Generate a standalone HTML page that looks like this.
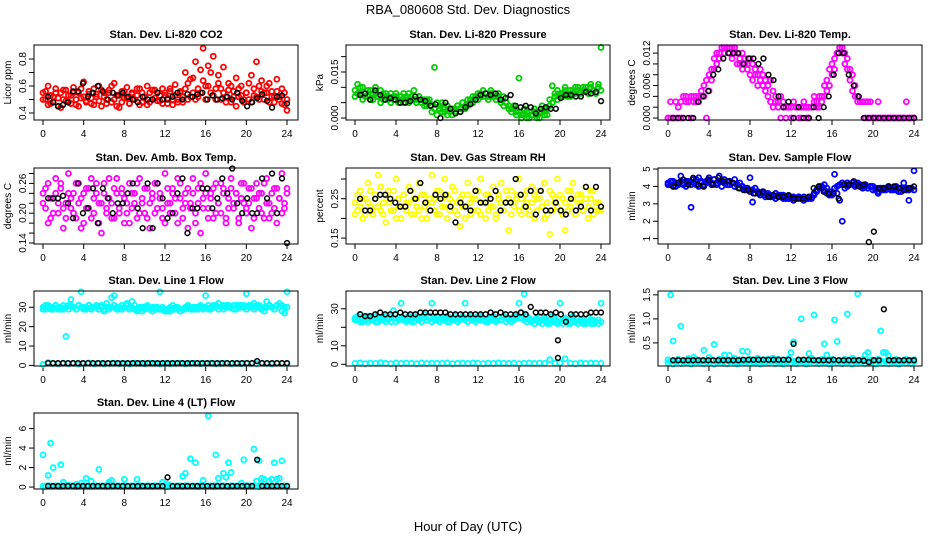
<!DOCTYPE html>
<html>
<head>
<meta charset="utf-8">
<style>
html,body{margin:0;padding:0;background:#fff;}
svg{display:block;font-family:"Liberation Sans",Arial,sans-serif;}
</style>
</head>
<body>
<svg id="chart" width="936" height="540" viewBox="0 0 936 540" xmlns="http://www.w3.org/2000/svg">
<text x="468" y="14" text-anchor="middle" font-size="13">RBA_080608  Std. Dev. Diagnostics</text>
<text x="468" y="531" text-anchor="middle" font-size="13">Hour of Day (UTC)</text>
</svg>
<script>
// ---- data (x positions derived from index over 0..24 h) ----
const xTicks = [0,4,8,12,16,20,24];
const co2A = [0.55,0.50,0.60,0.47,0.52,0.58,0.45,0.55,0.50,0.57,0.48,0.53,0.59,0.46,0.55,0.51,0.63,0.49,0.54,0.47,0.58,0.52,0.60,0.45,0.55,0.50,0.57,0.48,0.62,0.53,0.44,0.56,0.51,0.59,0.47,0.54,0.50,0.58,0.46,0.55,0.52,0.60,0.48,0.57,0.51,0.55,0.49,0.58,0.53,0.47,0.56,0.50,0.61,0.48,0.55,0.52,0.70,0.50,0.65,0.55,0.78,0.52,0.72,0.88,0.60,0.75,0.55,0.82,0.50,0.68,0.58,0.74,0.52,0.62,0.48,0.56,0.66,0.52,0.60,0.48,0.55,0.50,0.68,0.53,0.78,0.50,0.64,0.55,0.60,0.48,0.56,0.52,0.65,0.50,0.58,0.46,0.42];
const co2B = [0.50,0.56,0.46,0.53,0.48,0.55,0.51,0.44,0.57,0.49,0.53,0.47,0.55,0.50,0.45,0.58,0.52,0.48,0.56,0.51,0.46,0.54,0.49,0.57,0.52,0.47,0.55,0.60,0.50,0.45,0.53,0.48,0.56,0.51,0.47,0.55,0.50,0.53,0.58,0.48,0.52,0.46,0.55,0.50,0.57,0.49,0.53,0.47,0.55,0.51,0.58,0.46,0.53,0.50,0.56,0.48,0.58,0.62,0.52,0.66,0.50,0.58,0.55,0.64,0.50,0.60,0.70,0.53,0.58,0.62,0.50,0.55,0.48,0.57,0.60,0.52,0.45,0.58,0.53,0.50,0.55,0.62,0.48,0.58,0.52,0.60,0.56,0.50,0.55,0.62,0.52,0.48,0.56,0.52,0.47,0.55,0.50];
const co2K = [0.52,0.48,0.45,0.46,0.48,0.56,0.56,0.62,0.52,0.55,0.60,0.56,0.50,0.55,0.53,0.55,0.52,0.50,0.48,0.52,0.50,0.50,0.55,0.50,0.50,0.52,0.55,0.50,0.54,0.52,0.54,0.55,0.50,0.53,0.50,0.51,0.52,0.50,0.55,0.49,0.45,0.48,0.51,0.54,0.49,0.44,0.52,0.53,0.47];

const presA = [0.009,0.011,0.008,0.010,0.007,0.009,0.006,0.008,0.010,0.007,0.009,0.006,0.008,0.007,0.005,0.007,0.008,0.006,0.007,0.005,0.007,0.008,0.006,0.009,0.006,0.007,0.005,0.006,0.004,0.006,0.002,0.0165,0.005,0.003,0.005,0.002,0.004,0.003,0.001,0.003,0.004,0.002,0.005,0.004,0.006,0.005,0.007,0.006,0.008,0.007,0.009,0.008,0.007,0.009,0.008,0.007,0.008,0.006,0.007,0.005,0.004,0.003,0.004,0.002,0.013,0.001,0.003,0.000,0.002,0.001,0.003,0.000,0.002,0.004,0.001,0.003,0.006,0.0105,0.007,0.006,0.008,0.007,0.009,0.008,0.007,0.009,0.008,0.010,0.008,0.009,0.010,0.008,0.010,0.009,0.008,0.011,0.023];
const presB = [0.007,0.008,0.010,0.006,0.008,0.007,0.009,0.006,0.008,0.007,0.005,0.008,0.007,0.006,0.008,0.006,0.007,0.005,0.006,0.008,0.006,0.005,0.007,0.006,0.005,0.007,0.006,0.004,0.006,0.005,0.004,0.003,0.001,0.004,0.002,0.003,0.001,0.002,0.003,0.002,0.004,0.003,0.005,0.003,0.004,0.006,0.005,0.007,0.006,0.008,0.007,0.008,0.006,0.008,0.007,0.006,0.007,0.005,0.004,0.005,0.003,0.002,0.003,0.001,0.002,0.000,0.001,0.002,0.000,0.001,0.002,0.001,0.000,0.002,0.003,0.001,0.004,0.005,0.008,0.009,0.007,0.008,0.010,0.007,0.009,0.008,0.010,0.009,0.008,0.010,0.009,0.008,0.011,0.009,0.008,0.010,0.009];
const presK = [0.0075,0.008,0.006,0.009,0.0075,0.006,0.0065,0.006,0.005,0.005,0.0055,0.007,0.006,0.0055,0.004,0.0045,0.000,0.005,0.003,0.0015,0.002,0.0035,0.0045,0.006,0.0075,0.008,0.0075,0.008,0.006,0.0065,0.0075,0.004,0.0035,0.004,0.0035,0.0015,0.003,0.0035,0.003,0.003,0.0065,0.0075,0.0075,0.007,0.007,0.0085,0.008,0.0085,0.0055];

const tempA = [0,0.003,0,0,0.002,0,0,0.004,0.003,0,0.004,0.003,0.003,0.004,0.004,0,0.005,0.007,0.009,0.010,0.011,0.013,0.013,0.013,0.013,0.013,0.013,0.012,0.011,0.012,0.011,0.010,0.011,0.010,0.009,0.008,0.009,0.008,0.007,0.006,0.007,0.005,0.004,0.003,0.004,0.003,0.002,0.002,0.002,0.003,0.002,0.002,0.002,0.003,0.002,0.002,0.002,0.003,0.002,0.002,0.003,0.004,0.005,0.006,0.008,0.009,0.012,0.013,0.013,0.012,0.011,0.009,0.008,0.006,0.004,0.003,0.003,0.003,0.003,0.003,0,0,0.003,0,0,0,0,0,0,0,0,0,0,0.003,0,0,0];
const tempB = [0,0,0,0.003,0,0.003,0.004,0.003,0.003,0.004,0.003,0.004,0.004,0.005,0.006,0.007,0.008,0.009,0.011,0.012,0.012,0.013,0.012,0.013,0.012,0.011,0.012,0.010,0.010,0.009,0.010,0.009,0.008,0.007,0.008,0.006,0.007,0.006,0.005,0.004,0.003,0.002,0.003,0.002,0,0.002,0,0.002,0,0,0.002,0,0,0.002,0,0,0.002,0.004,0.003,0.004,0.004,0.006,0.007,0.009,0.010,0.011,0.012,0.013,0.012,0.010,0.009,0.007,0.005,0.004,0.003,0.003,0.003,0,0,0,0,0,0,0,0,0,0,0,0,0,0,0,0,0,0,0,0];
const tempK = [0,0,0,0,0,0.003,0.004,0.005,0.008,0.009,0.011,0.012,0.012,0.012,0.010,0.011,0.011,0.010,0.011,0.008,0.007,0.004,0.002,0.003,0,0.002,0,0,0.002,0,0.002,0.004,0.008,0.012,0.012,0.008,0.006,0.004,0,0,0,0,0,0,0,0,0,0,0];

const ambA = [0.24,0.21,0.26,0.19,0.23,0.27,0.20,0.25,0.17,0.22,0.28,0.21,0.24,0.19,0.26,0.23,0.18,0.25,0.21,0.27,0.20,0.24,0.22,0.16,0.26,0.21,0.23,0.19,0.25,0.27,0.20,0.24,0.18,0.22,0.26,0.21,0.24,0.19,0.27,0.22,0.20,0.25,0.17,0.23,0.26,0.21,0.24,0.19,0.28,0.22,0.20,0.25,0.23,0.18,0.26,0.21,0.24,0.17,0.22,0.27,0.20,0.25,0.16,0.23,0.28,0.21,0.24,0.19,0.26,0.22,0.20,0.25,0.18,0.23,0.27,0.21,0.24,0.19,0.26,0.22,0.20,0.25,0.17,0.23,0.26,0.21,0.24,0.19,0.27,0.22,0.20,0.25,0.18,0.23,0.28,0.21,0.24];
const ambB = [0.22,0.25,0.18,0.23,0.20,0.24,0.22,0.26,0.21,0.19,0.24,0.23,0.20,0.26,0.22,0.17,0.24,0.21,0.25,0.19,0.23,0.26,0.18,0.22,0.24,0.20,0.27,0.22,0.19,0.24,0.21,0.25,0.23,0.20,0.18,0.24,0.22,0.26,0.20,0.23,0.25,0.19,0.22,0.24,0.20,0.26,0.23,0.21,0.18,0.25,0.22,0.24,0.20,0.27,0.23,0.19,0.22,0.25,0.21,0.24,0.18,0.22,0.26,0.21,0.24,0.19,0.23,0.25,0.20,0.22,0.26,0.24,0.19,0.21,0.25,0.22,0.24,0.18,0.23,0.26,0.21,0.22,0.25,0.19,0.23,0.24,0.20,0.26,0.22,0.19,0.24,0.21,0.25,0.23,0.20,0.22,0.25];
const ambK = [0.23,0.23,0.23,0.235,0.22,0.19,0.26,0.20,0.21,0.25,0.18,0.25,0.23,0.20,0.22,0.22,0.24,0.26,0.21,0.17,0.26,0.17,0.26,0.23,0.19,0.20,0.24,0.27,0.16,0.21,0.21,0.25,0.25,0.21,0.23,0.27,0.24,0.29,0.22,0.20,0.23,0.20,0.20,0.27,0.23,0.28,0.20,0.27,0.14];

const rhA = [0.24,0.22,0.27,0.20,0.25,0.29,0.23,0.21,0.26,0.31,0.22,0.24,0.19,0.27,0.25,0.22,0.30,0.23,0.20,0.26,0.24,0.28,0.21,0.25,0.23,0.29,0.20,0.26,0.24,0.22,0.31,0.25,0.21,0.27,0.23,0.30,0.20,0.25,0.28,0.22,0.24,0.18,0.26,0.23,0.29,0.21,0.25,0.27,0.22,0.30,0.24,0.20,0.26,0.23,0.28,0.21,0.25,0.29,0.22,0.24,0.17,0.27,0.23,0.25,0.30,0.21,0.26,0.24,0.22,0.28,0.20,0.25,0.27,0.23,0.29,0.21,0.16,0.26,0.24,0.30,0.22,0.25,0.17,0.27,0.23,0.29,0.21,0.26,0.24,0.22,0.28,0.20,0.25,0.27,0.23,0.24,0.22];
const rhB = [0.21,0.26,0.23,0.25,0.21,0.24,0.27,0.22,0.25,0.23,0.28,0.21,0.26,0.24,0.22,0.27,0.20,0.25,0.23,0.26,0.22,0.24,0.27,0.21,0.25,0.22,0.26,0.23,0.20,0.25,0.24,0.22,0.27,0.21,0.25,0.23,0.26,0.22,0.24,0.27,0.21,0.25,0.23,0.20,0.26,0.24,0.22,0.25,0.27,0.21,0.24,0.26,0.22,0.25,0.23,0.20,0.26,0.24,0.22,0.27,0.25,0.21,0.24,0.26,0.22,0.25,0.23,0.27,0.21,0.24,0.26,0.22,0.25,0.23,0.20,0.24,0.27,0.22,0.25,0.23,0.26,0.21,0.24,0.22,0.27,0.25,0.21,0.24,0.26,0.22,0.25,0.23,0.27,0.21,0.24,0.22,0.23];
const rhK = [0.25,0.22,0.22,0.25,0.26,0.26,0.25,0.24,0.23,0.23,0.27,0.25,0.29,0.24,0.22,0.26,0.25,0.26,0.23,0.19,0.24,0.23,0.22,0.27,0.24,0.24,0.25,0.27,0.22,0.24,0.24,0.30,0.26,0.23,0.27,0.21,0.27,0.22,0.22,0.24,0.22,0.21,0.25,0.22,0.23,0.28,0.22,0.28,0.23];

const sfA = [4.2,4.1,4.3,4.0,4.2,4.6,4.1,4.3,4.2,2.8,4.4,4.1,4.5,4.2,4.0,4.3,4.5,4.2,4.4,4.1,4.6,4.3,4.4,4.1,4.3,4.2,4.4,4.1,4.2,4.0,3.9,3.8,4.5,3.1,3.9,3.7,3.6,3.7,3.5,3.6,3.5,3.4,3.6,3.5,3.4,3.5,3.3,3.4,3.3,3.4,3.3,3.4,3.3,3.2,3.3,3.4,3.3,3.5,3.7,3.9,4.0,4.1,3.9,3.7,3.5,4.7,3.6,3.2,2.0,3.9,4.0,4.1,4.2,4.1,4.2,4.1,4.0,4.1,3.9,4.0,4.0,3.8,3.6,3.9,3.8,3.9,4.0,3.9,3.8,4.0,3.7,3.9,4.2,3.8,3.2,3.9,4.9];
const sfB = [4.1,4.3,4.0,4.2,4.1,4.3,4.2,4.0,4.3,4.1,4.2,4.4,4.0,4.3,4.1,4.2,4.3,4.1,4.4,4.2,4.3,4.0,4.2,4.3,4.1,4.2,4.0,4.1,3.9,4.0,3.8,3.9,3.7,3.8,3.6,3.7,3.5,3.6,3.4,3.5,3.4,3.5,3.3,3.4,3.5,3.3,3.4,3.3,3.4,3.2,3.3,3.4,3.3,3.4,3.3,3.3,3.4,3.6,3.8,4.0,3.9,3.8,3.6,3.5,3.7,3.9,4.0,4.1,4.2,4.1,4.2,4.1,4.2,4.0,4.1,4.0,3.9,4.0,3.9,4.0,3.8,3.9,3.7,3.8,3.9,3.8,3.9,3.8,3.9,3.8,3.9,3.7,3.8,3.9,3.8,3.9,3.8];
const sfK = [4.0,4.2,4.4,4.1,4.5,4.1,4.0,4.4,4.1,4.5,4.3,4.3,4.2,3.9,3.8,3.8,3.6,3.6,3.7,3.4,3.5,3.4,3.4,3.5,3.3,3.3,3.3,3.4,3.9,4.0,3.7,3.6,3.6,3.3,4.1,4.1,4.3,4.0,4.1,0.8,1.4,3.9,3.9,4.0,4.0,3.9,3.8,3.9,4.0];

const l1A = [30,29,31,30,29,31,30,29,29,15,31,34,30,29,31,38,30,29,31,30,30,31,29,30,28,32,30,35,36,30,29,31,30,32,30,33,31,29,30,28,30,31,29,30,30,29,38,30,29,28,30,31,29,30,28,29,30,31,29,30,29,30,31,30,36,31,29,30,31,32,30,29,31,30,30,31,29,31,30,31,37,30,31,32,30,31,29,30,33,31,30,29,31,32,28,27,38];
const l1B = [29,31,30,29,30,31,29,30,31,30,29,31,30,29,31,30,29,30,31,29,30,30,29,31,29,30,29,30,31,29,30,29,30,31,29,30,29,28,29,30,29,30,29,28,29,30,29,29,28,29,28,29,30,29,28,29,29,30,29,29,30,29,30,29,30,29,30,31,30,29,30,31,30,31,30,29,31,30,31,30,29,31,30,29,31,30,29,28,30,31,30,29,31,30,31,30,30];
const l1C = [0.5,1.5,1.0,0.8,1.2,0.9,1.1,0.7,1.0,1.3,0.9,1.1,0.8,1.0,1.2,0.9,1.0,0.8,1.1,1.0,0.9,1.2,1.0,0.8,1.1,0.9,1.0,1.2,0.8,1.0,1.1,0.9,1.0,1.2,0.9,1.0,1.1,0.8,1.0,0.9,1.1,1.0,0.9,1.2,1.0,0.8,1.1,1.0,1.0];
const l1K = [1.2,1.2,1.2,1.2,1.2,1.2,1.2,1.2,1.2,1.2,1.2,1.2,1.2,1.2,1.2,1.2,1.2,1.2,1.2,1.2,1.2,1.2,1.2,1.2,1.2,1.2,1.2,1.2,1.2,1.2,1.2,1.2,1.2,1.2,1.2,1.2,1.2,1.2,1.2,1.2,1.2,1.2,2.2,1.2,1.2,1.2,1.2,1.2,1.2];

const l2A = [25,24,27,23,25,26,24,25,23,25,25,24,26,25,23,29,25,24,33,25,24,25,23,26,25,24,25,27,24,25,33,24,26,25,24,25,23,25,24,26,25,24,25,33,23,26,24,25,24,26,25,24,23,25,26,24,25,24,26,25,24,23,25,25,33,25,38,26,25,23,24,25,26,24,25,22,24,26,25,23,33,24,25,22,24,26,23,25,24,22,23,25,24,22,23,24,33];
const l2B = [24,26,23,25,24,23,25,24,26,23,24,25,23,24,26,25,23,24,25,24,23,26,24,23,25,24,23,25,24,26,23,25,24,23,25,24,26,23,25,24,23,25,26,24,23,25,24,23,26,24,25,23,24,25,24,23,25,24,26,23,24,25,24,26,25,28,24,23,24,23,22,24,23,22,24,23,22,23,24,22,23,22,24,23,22,24,23,22,23,24,22,23,22,24,23,22,23];
const l2C = [0.5,0.8,0.4,0.7,0.5,0.9,0.6,0.4,0.8,0.5,0.7,0.6,0.4,0.8,0.5,0.7,0.6,0.5,0.8,0.4,0.6,0.7,0.5,0.8,0.6,0.4,0.7,0.5,0.8,0.6,0.5,0.7,0.4,0.6,0.8,0.5,0.7,0.6,2.5,0.5,0.7,3.0,0.6,0.4,0.8,0.5,0.7,0.6,0.5];
const l2K = [27,26,26,27,28,27,27,27,28,27,27,27,28,28,28,28,28,28,27,27,27,27,27,27,27,27,28,27,28,27,27,27,28,27,31,28,28,28,27,28,27,23,27,27,27,27,28,28,28];
const l2ExtraX = [19.8,19.8];
const l2ExtraY = [13,3.5];

const l3A = [0.15,1.50,0.54,0.12,0.16,0.85,0.10,0.14,0.18,0.12,0.20,0.16,0.10,0.14,0.35,0.12,0.20,0.15,0.47,0.12,0.16,0.10,0.25,0.14,0.24,0.12,0.18,0.10,0.15,0.33,0.12,0.32,0.16,0.10,0.14,0.18,0.12,0.15,0.10,0.16,0.14,0.18,0.12,0.16,0.10,0.14,0.12,0.17,0.30,0.52,0.12,0.15,1.00,0.14,0.12,0.28,0.18,1.08,0.14,0.12,0.16,0.48,0.25,0.12,0.16,0.98,0.53,0.14,0.12,0.16,1.10,0.12,0.18,0.15,1.52,0.12,0.16,0.25,0.30,0.15,0.12,0.14,0.16,0.75,0.30,0.30,0.24,0.12,0.14,0.16,0.12,0.10,0.14,0.16,0.12,0.14,0.15];
const l3B = [0.08,0.12,0.06,0.10,0.14,0.07,0.11,0.09,0.13,0.06,0.10,0.15,0.08,0.12,0.07,0.11,0.09,0.14,0.06,0.10,0.13,0.08,0.12,0.07,0.11,0.15,0.09,0.06,0.10,0.13,0.08,0.12,0.07,0.14,0.09,0.11,0.06,0.10,0.13,0.08,0.12,0.15,0.07,0.11,0.09,0.06,0.10,0.14,0.08,0.12,0.07,0.11,0.13,0.09,0.06,0.10,0.15,0.08,0.12,0.07,0.11,0.09,0.14,0.06,0.10,0.13,0.08,0.12,0.07,0.11,0.09,0.15,0.06,0.10,0.13,0.08,0.12,0.07,0.11,0.09,0.14,0.06,0.10,0.13,0.08,0.12,0.07,0.11,0.09,0.15,0.06,0.10,0.13,0.08,0.12,0.07,0.11];
const l3K = [0.14,0.14,0.14,0.14,0.14,0.14,0.14,0.14,0.14,0.14,0.14,0.14,0.14,0.14,0.15,0.15,0.15,0.15,0.15,0.15,0.15,0.15,0.15,0.15,0.48,0.15,0.15,0.15,0.14,0.14,0.14,0.14,0.15,0.14,0.14,0.14,0.14,0.14,0.13,0.10,0.14,0.14,1.20,0.14,0.14,0.14,0.14,0.14,0.14];

const l4A = [3.3,0.1,1.2,4.5,2.0,0.1,0.1,2.3,0.5,0.1,0.2,0.1,0.1,0.3,0.1,0.4,0.1,0.9,0.1,0.6,0.1,0.1,1.8,0.1,0.1,0.1,0.5,0.7,0.1,0.1,0.1,0.1,0.8,0.1,0.1,0.1,0.1,0.8,0.1,0.1,0.1,0.1,0.1,0.1,0.1,0.1,0.1,0.5,0.1,0.3,0.1,0.1,0.1,0.1,0.1,1.1,1.4,0.1,2.9,0.1,2.5,0.1,0.1,0.7,0.1,7.3,0.1,0.1,3.3,0.9,0.1,1.4,1.0,2.5,1.5,0.1,0.1,0.1,0.4,2.8,0.1,0.1,0.1,3.9,0.6,2.7,0.9,0.8,0.1,0.6,0.8,2.5,0.8,0.9,2.7,0.1,0.1];
const l4B = [0.1,0.05,0.15,0.1,0.08,0.12,0.1,0.06,0.14,0.1,0.09,0.12,0.1,0.05,0.15,0.1,0.08,0.12,0.1,0.06,0.14,0.1,0.09,0.12,0.1,0.05,0.15,0.1,0.08,0.12,0.1,0.06,0.14,0.1,0.09,0.12,0.1,0.05,0.15,0.1,0.08,0.12,0.1,0.06,0.14,0.1,0.09,0.12,0.1,0.05,0.15,0.1,0.08,0.12,0.1,0.06,0.14,0.1,0.09,0.12,0.1,0.05,0.15,0.1,0.08,0.12,0.1,0.06,0.14,0.1,0.09,0.12,0.1,0.05,0.15,0.1,0.08,0.12,0.1,0.06,0.14,0.1,0.09,0.12,0.1,0.05,0.15,0.1,0.08,0.12,0.1,0.06,0.14,0.1,0.09,0.12,0.1];
const l4K = [0.1,0.1,0.1,0.1,0.1,0.1,0.1,0.1,0.1,0.1,0.1,0.1,0.1,0.1,0.1,0.1,0.1,0.1,0.1,0.1,0.1,0.1,0.1,0.1,1.0,0.1,0.1,0.1,0.1,0.1,0.1,0.1,0.1,0.1,0.1,0.1,0.1,0.1,0.1,0.1,0.1,0.1,2.8,0.1,0.1,0.1,0.1,0.1,0.1];

// ---- panel definitions ----
const panels = [
 {name:'co2',title:'Stan. Dev. Li-820 CO2',ylab:'Licor ppm',col:0,row:0,ymin:0.348,ymax:0.904,ticks:[0.4,0.5,0.6,0.7,0.8],labels:['0.4','','0.6','','0.8'],color:'#ff0000',series:[co2A,co2B],black:co2K},
 {name:'pressure',title:'Stan. Dev. Li-820 Pressure',ylab:'kPa',col:1,row:0,ymin:-0.00065,ymax:0.0238,ticks:[0,0.005,0.010,0.015,0.020],labels:['0.000','','','0.015',''],color:'#00cc00',series:[presA,presB],black:presK},
 {name:'li820-temp',title:'Stan. Dev. Li-820 Temp.',ylab:'degrees C',col:2,row:0,ymin:-0.00037,ymax:0.0135,ticks:[0,0.002,0.004,0.006,0.008,0.010,0.012],labels:['0.000','','','0.006','','','0.012'],color:'#ff00ff',series:[tempA,tempB],black:tempK},
 {name:'amb-box-temp',title:'Stan. Dev. Amb. Box Temp.',ylab:'degrees C',col:0,row:1,ymin:0.138,ymax:0.291,ticks:[0.14,0.16,0.18,0.20,0.22,0.24,0.26,0.28],labels:['0.14','','','0.20','','','0.26',''],color:'#ff00ff',series:[ambA,ambB],black:ambK},
 {name:'gas-stream-rh',title:'Stan. Dev. Gas Stream RH',ylab:'percent',col:1,row:1,ymin:0.135,ymax:0.328,ticks:[0.15,0.20,0.25,0.30],labels:['0.15','','0.25',''],color:'#ffff00',series:[rhA,rhB],black:rhK},
 {name:'sample-flow',title:'Stan. Dev. Sample Flow',ylab:'ml/min',col:2,row:1,ymin:0.69,ymax:5.06,ticks:[1,2,3,4,5],labels:['1','2','3','4','5'],color:'#0000ff',series:[sfA,sfB],black:sfK},
 {name:'line1-flow',title:'Stan. Dev. Line 1 Flow',ylab:'ml/min',col:0,row:2,ymin:-0.3,ymax:38.4,ticks:[0,10,20,30],labels:['0','10','20','30'],color:'#00ffff',series:[l1A,l1B,l1C],black:l1K},
 {name:'line2-flow',title:'Stan. Dev. Line 2 Flow',ylab:'ml/min',col:1,row:2,ymin:-0.9,ymax:39.6,ticks:[0,10,20,30],labels:['0','10','','30'],color:'#00ffff',series:[l2A,l2B,l2C],black:l2K,extraX:l2ExtraX,extraY:l2ExtraY},
 {name:'line3-flow',title:'Stan. Dev. Line 3 Flow',ylab:'ml/min',col:2,row:2,ymin:0.02,ymax:1.58,ticks:[0.5,1.0,1.5],labels:['0.5','1.0','1.5'],color:'#00ffff',series:[l3A,l3B],black:l3K},
 {name:'line4-flow',title:'Stan. Dev. Line 4 (LT) Flow',ylab:'ml/min',col:0,row:3,ymin:-0.2,ymax:7.6,ticks:[0,2,4,6],labels:['0','2','4','6'],color:'#00ffff',series:[l4A,l4B],black:l4K}
];
const colBox = [[34,298],[346,610],[658,922]];
const colX = [[43,287],[355,601],[668,914]];
const rowBox = [[45,120],[168,244],[291,366],[413,489]];

const NS = 'http://www.w3.org/2000/svg';
const svg = document.getElementById('chart');
function mk(tag, attrs, parent){
  const e = document.createElementNS(NS, tag);
  for (const k in attrs) e.setAttribute(k, attrs[k]);
  (parent||svg).appendChild(e);
  return e;
}

panels.forEach(p => {
  const [L,R] = colBox[p.col];
  const [T,B] = rowBox[p.row];
  const [x0,x24] = colX[p.col];
  const xs = h => x0 + (x24 - x0) * h / 24;
  const ys = v => B - (B - T) * (v - p.ymin) / (p.ymax - p.ymin);

  const g = mk('g', {});
  
  

  const title = mk('text', {x:(L+R)/2, y:T-7, 'text-anchor':'middle', 'font-size':'11', 'font-weight':'bold'}, g);
  title.textContent = p.title;
  
  

  const yl = mk('text', {x:0, y:0, 'text-anchor':'middle', 'font-size':'10', transform:'translate(' + (L-23) + ',' + ((T+B)/2) + ') rotate(-90)'}, g);
  yl.textContent = p.ylab;
  
  

  xTicks.forEach(t => {
    const X = xs(t);
    const tk = mk('line', {x1:X, x2:X, y1:B, y2:B+5, stroke:'#000', 'stroke-width':1}, g);
    
    
    const tl = mk('text', {x:X, y:B+17, 'text-anchor':'middle', 'font-size':'10'}, g);
    tl.textContent = String(t);
    
    
  });
  p.ticks.forEach((t, i) => {
    const Y = ys(t);
    const tk = mk('line', {x1:L-5, x2:L, y1:Y, y2:Y, stroke:'#000', 'stroke-width':1}, g);
    
    
    if (p.labels[i]) {
      const tl = mk('text', {x:0, y:0, 'text-anchor':'middle', 'font-size':'10', transform:'translate(' + (L-8) + ',' + Y + ') rotate(-90)'}, g);
      tl.textContent = p.labels[i];
      
      
    }
  });

  p.series.forEach(arr => {
    arr.forEach((v, i) => {
      const h = 24 * i / (arr.length - 1);
      const c = mk('circle', {cx:xs(h), cy:ys(v), r:2.5, fill:'none', stroke:p.color, 'stroke-width':1.8}, g);
      
      
    });
  });
  p.black.forEach((v, i) => {
    const h = 0.5 + 23.5 * i / (p.black.length - 1);
    const c = mk('circle', {cx:xs(h), cy:ys(v), r:2.4, fill:'none', stroke:'#000', 'stroke-width':1.5}, g);
    
    
  });
  if (p.extraX) {
    p.extraX.forEach((h, i) => {
      const c = mk('circle', {cx:xs(h), cy:ys(p.extraY[i]), r:2.4, fill:'none', stroke:'#000', 'stroke-width':1.5}, g);
      
      
    });
  }

  const box = mk('rect', {x:L, y:T, width:R-L, height:B-T, fill:'none', stroke:'#000', 'stroke-width':1}, g);
  
  
});
</script>
</body>
</html>
